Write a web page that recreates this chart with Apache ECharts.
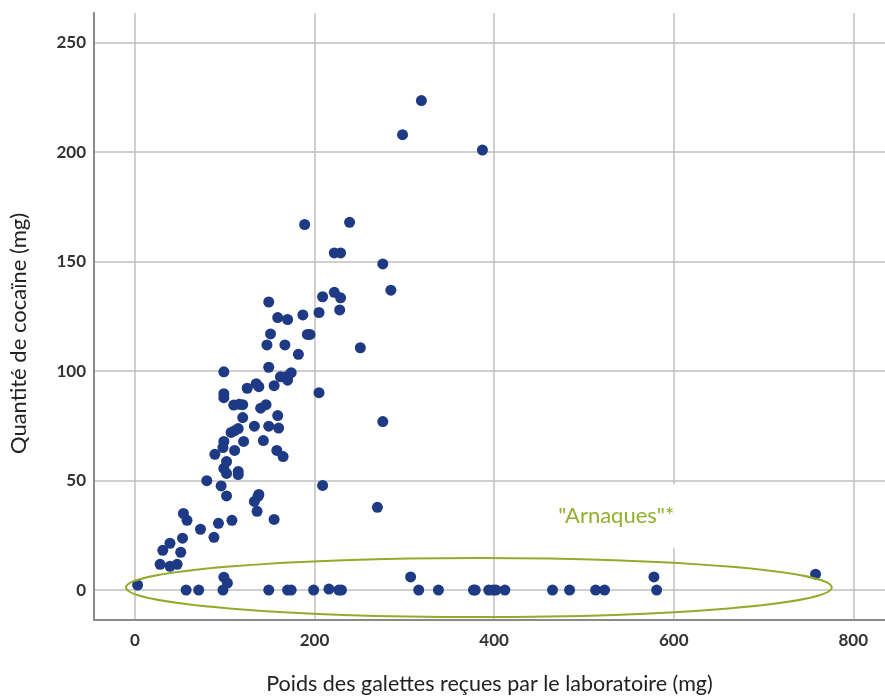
<!DOCTYPE html>
<html><head><meta charset="utf-8">
<script src="https://cdn.jsdelivr.net/npm/echarts@6/dist/echarts.min.js"></script>
<style>html,body{margin:0;padding:0;background:#fff}#c{width:885px;height:700px}</style>
</head><body><div id="c"></div>
<script>
// Poids des galettes reçues par le laboratoire (mg)
const poidsRecus = [319,298,387,189,239,222,229,276,285,209,222,229,228,149,159,170,187,205,192,195,
  151,147,167,182,251,99,149,162,168,174,170,155,125,135,138,205,99,99,110,116,
  120,140,146,120,159,276,160,133,149,107,111,115,143,99,98,121,111,89,158,165,
  102,99,102,115,115,80,96,209,102,133,137,138,136,54,58,73,93,108,88,155,
  270,53,31,39,51,28,39,47,3,
  99,103,98,57,71,149,170,174,199,216,227,230,307,316,338,377,379,394,399,402,
  412,465,484,513,523,578,581,758];
// Quantité de cocaïne (mg)
const quantiteCocaine = [223.6,208,201,167,168,154,154,149,137,134,136,133.5,128,131.6,124.5,123.6,125.7,126.8,116.8,116.8,
  117,112,112,107.7,110.7,99.7,101.8,97.4,97.4,99.3,95.9,93.4,92.2,94.3,92.9,90.2,89.7,87.9,84.5,84.9,
  84.7,83.1,84.7,78.8,79.7,77,74,74.9,74.9,72,72.8,73.8,68.3,67.9,65.1,67.9,63.8,62,63.8,61,
  58.7,55.6,53.3,54.2,52.8,50,47.6,47.8,43,40.5,42.8,43.7,36,35,31.9,27.8,30.5,31.9,24.1,32.3,
  37.8,23.7,18.2,21.4,17.3,11.8,10.9,11.8,2.3,
  5.9,3.2,0,0,0,0,0,0,0,0.5,0,0,6,0,0,0,0,0,0,0,
  0,0,0,0,0,6,0,7.3];
const xTicks = [0,200,400,600,800];
const yTicks = [0,50,100,150,200,250];
const xTitle = 'Poids des galettes reçues par le laboratoire (mg)';
const yTitle = 'Quantité de cocaïne (mg)';
const noteText = '"Arnaques"*';
// annotation placed in data space: ellipse centre / radii, label anchor
const ellipseCentre = [383, 1.2];
const ellipseRadii = [393, 13.5];
const noteAnchor = [536, 33.7];

const points = poidsRecus.map((v, i) => [v, quantiteCocaine[i]]);
const chart = echarts.init(document.getElementById('c'), null, {renderer: 'canvas'});
const fontFam = 'Lato, "Open Sans", sans-serif';
const gridCol = '#bfbfbf';
chart.setOption({
  animation: false,
  grid: {left: 93, right: 0, top: 13, bottom: 77, containLabel: false},
  xAxis: {
    type: 'value', min: -45.6, max: 835.3,
    axisLine: {show: true, onZero: false, lineStyle: {color: '#8a8a8a', width: 2}},
    axisTick: {show: false, customValues: xTicks},
    axisLabel: {customValues: xTicks, color: '#333', fontSize: 17, fontWeight: 'bold', fontFamily: fontFam, margin: 12},
    splitLine: {show: true, lineStyle: {color: gridCol, width: 1.5}},
    name: xTitle, nameLocation: 'middle', nameGap: 53,
    nameTextStyle: {color: '#222', fontSize: 21.5, fontFamily: fontFam}
  },
  yAxis: {
    type: 'value', min: -13.65, max: 263.6,
    axisLine: {show: true, onZero: false, lineStyle: {color: '#8a8a8a', width: 2}},
    axisTick: {show: false, customValues: yTicks},
    axisLabel: {customValues: yTicks, color: '#333', fontSize: 17, fontWeight: 'bold', fontFamily: fontFam, margin: 8},
    splitLine: {show: true, lineStyle: {color: gridCol, width: 1.5}},
    name: yTitle, nameLocation: 'middle', nameGap: 64,
    nameTextStyle: {color: '#222', fontSize: 22, fontFamily: fontFam, padding: [0, 34, 0, 0]}
  },
  series: [{
    type: 'scatter', data: points, symbolSize: 11,
    itemStyle: {color: '#1f3a85', opacity: 1}
  }]
});
const c = chart.convertToPixel({xAxisIndex: 0, yAxisIndex: 0}, ellipseCentre);
const e = chart.convertToPixel({xAxisIndex: 0, yAxisIndex: 0}, [ellipseCentre[0] + ellipseRadii[0], ellipseCentre[1] + ellipseRadii[1]]);
const t = chart.convertToPixel({xAxisIndex: 0, yAxisIndex: 0}, noteAnchor);
chart.setOption({
  graphic: [
    {type: 'ellipse', z: 100, silent: true,
      shape: {cx: c[0], cy: c[1], rx: Math.abs(e[0] - c[0]), ry: Math.abs(c[1] - e[1])},
      style: {fill: null, stroke: '#93ab2a', lineWidth: 2}},
    {type: 'text', z: 90, silent: true, x: t[0], y: t[1],
      style: {text: noteText, fill: '#93b02d', fontSize: 22, fontFamily: fontFam,
        align: 'center', verticalAlign: 'middle', backgroundColor: '#fff', padding: [18, 6, 24, 6]}}
  ]
});
</script></body></html>
